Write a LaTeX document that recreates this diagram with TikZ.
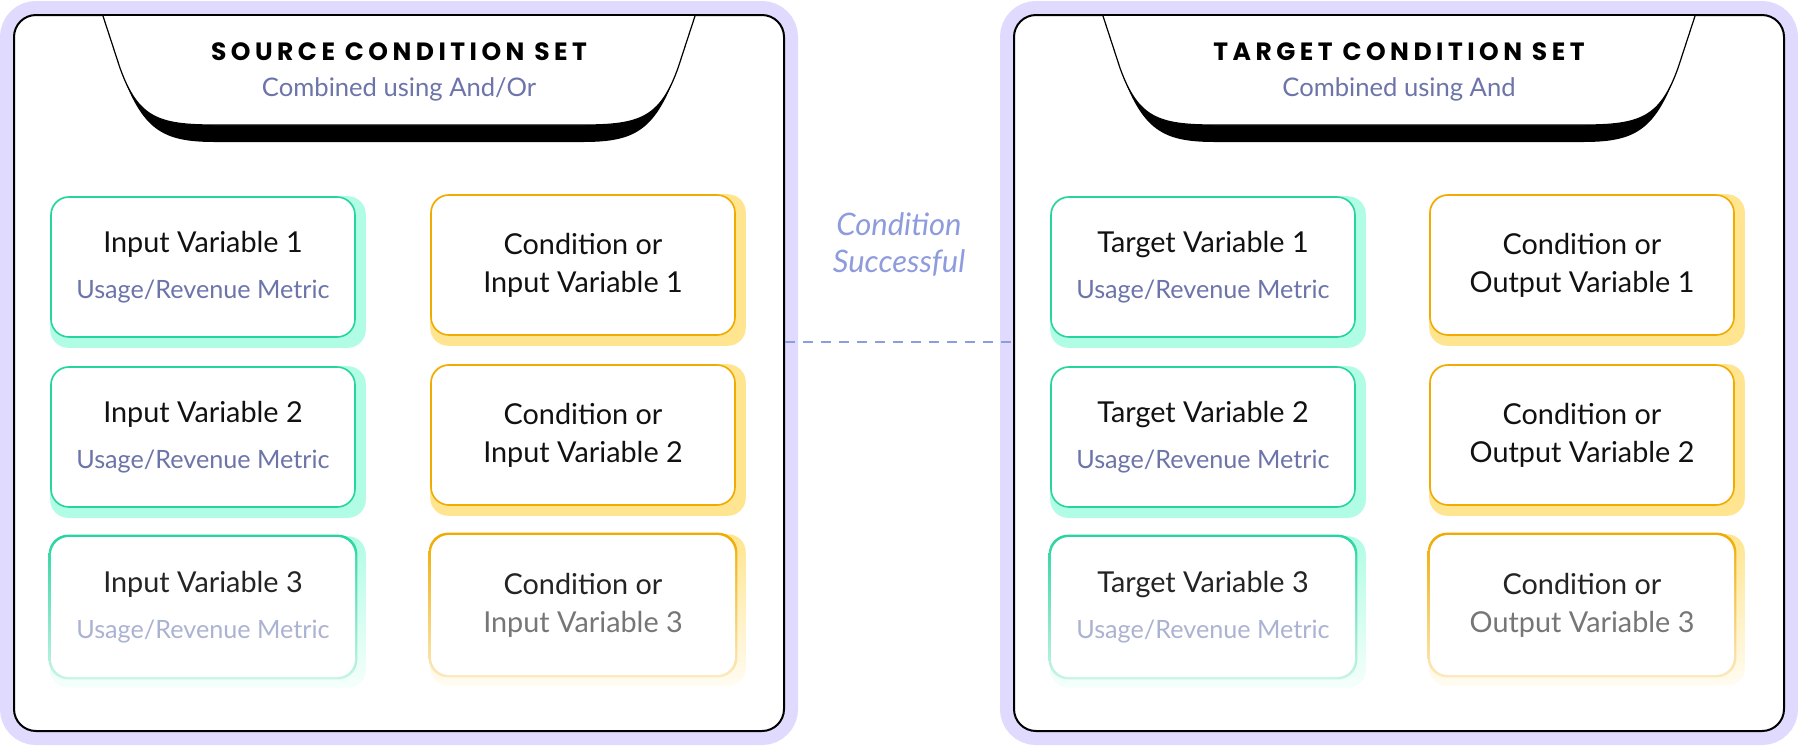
\documentclass[tikz,border=0pt]{standalone}
\usepackage{fontspec}
\setmainfont{Lato}
\newfontfamily\titlefont{Poppins}[LetterSpace=18]
\newcommand\metricfont{\fontsize{12.6}{23}\selectfont}
\usetikzlibrary{backgrounds}
\definecolor{lav}{RGB}{224,218,254}
\definecolor{slate}{RGB}{108,116,170}
\definecolor{grn}{RGB}{38,212,158}
\definecolor{mint}{RGB}{176,252,228}
\definecolor{amber}{RGB}{240,170,0}
\definecolor{butter}{RGB}{255,229,143}
\definecolor{periw}{RGB}{142,155,220}
\definecolor{ink}{RGB}{17,17,17}
\definecolor{fadeink}{RGB}{36,36,36}
\definecolor{fadegrey}{RGB}{118,118,118}
\definecolor{fadeslate}{RGB}{172,178,210}
\tikzset{
  panel/.style={draw=black, line width=1pt, fill=white, rounded corners=11pt,
    minimum width=385pt, minimum height=358pt, preaction={draw=lav, line width=14pt}},
  settitle/.style={font=\titlefont\fontsize{12.5}{14}\selectfont\bfseries},
  setsub/.style={text=slate, font=\fontsize{12.8}{15}\selectfont},
  varbox/.style={draw=grn, line width=0.8pt, fill=white, rounded corners=9pt,
    minimum width=152pt, minimum height=70pt, align=center, text=ink,
    font=\fontsize{14.4}{23}\selectfont},
  condbox/.style={varbox, draw=amber, font=\fontsize{14.4}{19}\selectfont},
  fadevar/.style={varbox, draw=none},
  fadecond/.style={condbox, draw=none},
  link/.style={draw=periw, line width=0.75pt, dash pattern=on 5pt off 4pt},
}
\begin{document}
\begin{tikzpicture}[x=0.5pt, y=-0.5pt]
    \useasboundingbox (0,0) rectangle (1798,746);
    \begin{scope}[on background layer]
        \node[panel] (src) at (399,373) {};
        \node[panel] (tgt) at (1399,373) {};
    \end{scope}

    \begin{scope}[shift={(src.north)}]
        \fill (-296,2) -- (-279,54) .. controls (-257,116) and (-237,128) .. (-184,128) -- (184,128) .. controls (237,128) and (257,116) .. (279,54) -- (296,2) -- cycle;
        \filldraw[fill=white, line width=0.6pt] (-296,2) -- (-279,54) .. controls (-261,104) and (-241,111) .. (-184,111) -- (184,111) .. controls (241,111) and (261,104) .. (279,54) -- (296,2);
        \node[settitle] (srctitle) at (0,38) {SOURCE CONDITION SET};
        \node[setsub] (srcsub) at (0,75) {Combined using And/Or};
    \end{scope}
    \begin{scope}[shift={(tgt.north)}]
        \fill (-296,2) -- (-279,54) .. controls (-257,116) and (-237,128) .. (-184,128) -- (184,128) .. controls (237,128) and (257,116) .. (279,54) -- (296,2) -- cycle;
        \filldraw[fill=white, line width=0.6pt] (-296,2) -- (-279,54) .. controls (-261,104) and (-241,111) .. (-184,111) -- (184,111) .. controls (241,111) and (261,104) .. (279,54) -- (296,2);
        \node[settitle] (tgttitle) at (0,38) {TARGET CONDITION SET};
        \node[setsub] (tgtsub) at (0,75) {Combined using And};
    \end{scope}

    \node[varbox] (in1) at (203,267) {Input Variable 1\\{\metricfont\color{slate}Usage/Revenue Metric}};
    \node[varbox] (in2) at (203,437) {Input Variable 2\\{\metricfont\color{slate}Usage/Revenue Metric}};
    \node[fadevar] (in3) at (203,607) {\textcolor{fadeink}{Input Variable 3}\\{\metricfont\color{fadeslate}Usage/Revenue Metric}};
    \node[condbox] (cin1) at (583,265) {Condition or\\Input Variable 1};
    \node[condbox] (cin2) at (583,435) {Condition or\\Input Variable 2};
    \node[fadecond] (cin3) at (583,605) {\textcolor{fadeink}{Condition or}\\\textcolor{fadegrey}{Input Variable 3}};

    \node[varbox] (tv1) at (1203,267) {Target Variable 1\\{\metricfont\color{slate}Usage/Revenue Metric}};
    \node[varbox] (tv2) at (1203,437) {Target Variable 2\\{\metricfont\color{slate}Usage/Revenue Metric}};
    \node[fadevar] (tv3) at (1203,607) {\textcolor{fadeink}{Target Variable 3}\\{\metricfont\color{fadeslate}Usage/Revenue Metric}};
    \node[condbox] (cout1) at (1582,265) {Condition or\\Output Variable 1};
    \node[condbox] (cout2) at (1582,435) {Condition or\\Output Variable 2};
    \node[fadecond] (cout3) at (1582,605) {\textcolor{fadeink}{Condition or}\\\textcolor{fadegrey}{Output Variable 3}};

    \begin{scope}[on background layer]
        \fill[mint, rounded corners=9pt] (in1.north west) rectangle ([shift={(5pt,-5pt)}]in1.south east);
        \fill[mint, rounded corners=9pt] (in2.north west) rectangle ([shift={(5pt,-5pt)}]in2.south east);
        \fill[mint, rounded corners=9pt] (tv1.north west) rectangle ([shift={(5pt,-5pt)}]tv1.south east);
        \fill[mint, rounded corners=9pt] (tv2.north west) rectangle ([shift={(5pt,-5pt)}]tv2.south east);
        \fill[butter, rounded corners=9pt] (cin1.north west) rectangle ([shift={(5pt,-5pt)}]cin1.south east);
        \fill[butter, rounded corners=9pt] (cin2.north west) rectangle ([shift={(5pt,-5pt)}]cin2.south east);
        \fill[butter, rounded corners=9pt] (cout1.north west) rectangle ([shift={(5pt,-5pt)}]cout1.south east);
        \fill[butter, rounded corners=9pt] (cout2.north west) rectangle ([shift={(5pt,-5pt)}]cout2.south east);

        \shade[top color=mint, bottom color=mint!12, rounded corners=9pt] (in3.north west) rectangle ([shift={(5pt,-5pt)}]in3.south east);
        \shade[top color=grn, bottom color=grn!25, rounded corners=9.8pt] ([shift={(-0.8pt,0.8pt)}]in3.north west) rectangle ([shift={(0.8pt,-0.8pt)}]in3.south east);
        \shade[top color=mint, bottom color=mint!12, rounded corners=9pt] (tv3.north west) rectangle ([shift={(5pt,-5pt)}]tv3.south east);
        \shade[top color=grn, bottom color=grn!25, rounded corners=9.8pt] ([shift={(-0.8pt,0.8pt)}]tv3.north west) rectangle ([shift={(0.8pt,-0.8pt)}]tv3.south east);
        \shade[top color=butter, bottom color=butter!12, rounded corners=9pt] (cin3.north west) rectangle ([shift={(5pt,-5pt)}]cin3.south east);
        \shade[top color=amber, bottom color=amber!25, rounded corners=9.8pt] ([shift={(-0.8pt,0.8pt)}]cin3.north west) rectangle ([shift={(0.8pt,-0.8pt)}]cin3.south east);
        \shade[top color=butter, bottom color=butter!12, rounded corners=9pt] (cout3.north west) rectangle ([shift={(5pt,-5pt)}]cout3.south east);
        \shade[top color=amber, bottom color=amber!25, rounded corners=9.8pt] ([shift={(-0.8pt,0.8pt)}]cout3.north west) rectangle ([shift={(0.8pt,-0.8pt)}]cout3.south east);
    \end{scope}

    \draw[link] ([yshift=15.5pt]src.east) -- ([yshift=15.5pt]tgt.west);
    \node[text=periw, align=center, font=\itshape\fontsize{15.5}{18.5}\selectfont] (succ) at (899,245) {Condition\\Successful};
\end{tikzpicture}
\end{document}
